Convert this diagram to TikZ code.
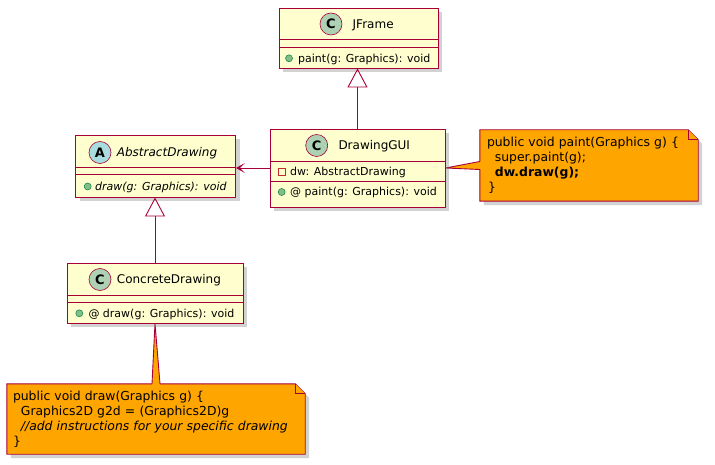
\documentclass[tikz,border=0pt]{standalone}
\usepackage{fontspec}
\setmainfont{DejaVu Sans}
\usetikzlibrary{arrows.meta,shadows,backgrounds}
\definecolor{umlred}{HTML}{A80036}
\definecolor{classfill}{HTML}{FEFECE}
\definecolor{notefill}{HTML}{FFA500}
\definecolor{spotc}{HTML}{ADD1B2}
\definecolor{spota}{HTML}{A9DCDF}
\definecolor{pubfill}{HTML}{84BE84}
\definecolor{publine}{HTML}{038048}
\definecolor{privline}{HTML}{C82930}
\newcommand{\codeind}{\hspace*{7.9pt}}

\begin{document}
\begin{tikzpicture}[x=1pt,y=-1pt]%
  \tikzstyle{shade}=[drop shadow={shadow xshift=4pt,shadow yshift=-4pt,opacity=.35}]
  \tikzstyle{classbox}=[rectangle,draw=umlred,fill=classfill,line width=.9pt,inner sep=0,shade]
  \tikzstyle{sepline}=[draw=umlred,line width=.9pt]
  \tikzstyle{spot}=[circle,draw=umlred,line width=.6pt,minimum size=22pt,inner sep=0,font=\fontsize{13}{13}\selectfont\bfseries]
  \tikzstyle{cname}=[anchor=base west,inner sep=0,font=\fontsize{12}{14}\selectfont]
  \tikzstyle{member}=[anchor=base west,inner sep=0,font=\fontsize{11}{13}\selectfont]
  \tikzstyle{pub}=[circle,draw=publine,fill=pubfill,minimum size=7pt,inner sep=0,line width=.5pt]
  \tikzstyle{priv}=[rectangle,draw=privline,minimum size=7pt,inner sep=0,line width=.7pt]
  \tikzstyle{notebox}=[rectangle,align=left,inner ysep=0,font=\fontsize{12.4}{15}\selectfont]
  \tikzstyle{noteline}=[draw=umlred,fill=notefill,line width=.9pt,line join=miter]
  \tikzstyle{extends}=[draw=umlred,line width=.9pt,-{Triangle[open,length=19pt,width=20pt]}]
  \tikzstyle{uses}=[draw=umlred,line width=.9pt,-{Stealth[length=9pt,width=10pt,inset=5pt]}]

  \begin{pgfonlayer}{background}
    \fill[white] (0,0) rectangle (715,465);
  \end{pgfonlayer}
  \useasboundingbox (0,0) rectangle (715,465);

  % classes
  \node(jframe)[classbox,minimum width=159pt,minimum height=60pt] at (358.5,38) {};
  \draw[sepline] ([yshift=-32pt]jframe.north west) -- ([yshift=-32pt]jframe.north east)
                 ([yshift=-40pt]jframe.north west) -- ([yshift=-40pt]jframe.north east);
  \node(jframespot)[spot,fill=spotc] at (331,24) {C};
  \node(jframename)[cname] at (352.5,28.4) {JFrame};
  \node(jframepub)[pub] at (289,58.3) {};
  \node(jframepaint)[member] at (298,62.3) {paint(g: Graphics): void};

  \node(abstractdrawing)[classbox,minimum width=160pt,minimum height=62pt] at (155.5,166) {};
  \draw[sepline] ([yshift=-32.5pt]abstractdrawing.north west) -- ([yshift=-32.5pt]abstractdrawing.north east)
                 ([yshift=-40pt]abstractdrawing.north west) -- ([yshift=-40pt]abstractdrawing.north east);
  \node(abstractspot)[spot,fill=spota] at (100,152.5) {A};
  \node(abstractname)[cname,font=\fontsize{12}{14}\selectfont\itshape] at (116.7,156.9) {AbstractDrawing};
  \node(abstractpub)[pub] at (87.7,186.5) {};
  \node(abstractdraw)[member,font=\fontsize{11}{13}\selectfont\itshape] at (95,190.5) {draw(g: Graphics): void};

  \node(drawinggui)[classbox,minimum width=175pt,minimum height=78pt] at (357.5,168) {};
  \draw[sepline] ([yshift=-33pt]drawinggui.north west) -- ([yshift=-33pt]drawinggui.north east)
                 ([yshift=-53pt]drawinggui.north west) -- ([yshift=-53pt]drawinggui.north east);
  \node(guispot)[spot,fill=spotc] at (316.7,145.5) {C};
  \node(guiname)[cname] at (338.3,149.9) {DrawingGUI};
  \node(guipriv)[priv] at (281.7,172) {};
  \node(guidw)[member] at (290,176) {dw: AbstractDrawing};
  \node(guipub)[pub] at (281.7,192) {};
  \node(guipaint)[member] at (290,196) {@ paint(g: Graphics): void};

  \node(concretedrawing)[classbox,minimum width=176pt,minimum height=60pt] at (155,293) {};
  \draw[sepline] ([yshift=-33pt]concretedrawing.north west) -- ([yshift=-33pt]concretedrawing.north east)
                 ([yshift=-40pt]concretedrawing.north west) -- ([yshift=-40pt]concretedrawing.north east);
  \node(concretespot)[spot,fill=spotc] at (100,279.5) {C};
  \node(concretename)[cname] at (116.7,283.9) {ConcreteDrawing};
  \node(concretepub)[pub] at (79.3,313.3) {};
  \node(concretedraw)[member] at (88.3,317.3) {@ draw(g: Graphics): void};

  % notes
  \node(paintnote)[notebox,inner xsep=7pt,text width=204pt,minimum height=71pt] at (589,165.5)
    {public void paint(Graphics g) \{\\\codeind super.paint(g);\\\codeind\textbf{dw.draw(g);}\\\hspace*{1pt}\}};
  \node(drawnote)[notebox,inner xsep=6pt,text width=286pt,minimum height=70pt] at (156,419)
    {public void draw(Graphics g) \{\\\codeind Graphics2D g2d = (Graphics2D)g\\\codeind\textit{//add instructions for your specific drawing}\\\}};

  \begin{pgfonlayer}{background}
    \filldraw[noteline,shade] (paintnote.north west) -- ([xshift=-10pt]paintnote.north east)
      -- ([yshift=-10pt]paintnote.north east) -- (paintnote.south east) -- (paintnote.south west) -- cycle;
    \draw[noteline] ([xshift=-10pt]paintnote.north east) -- ++(0,10) -- ([yshift=-10pt]paintnote.north east);
    \fill[notefill] (drawinggui.east) -- ([xshift=1pt,yshift=4pt]paintnote.west) -- ([xshift=1pt,yshift=-4pt]paintnote.west) -- cycle;
    \draw[sepline] ([yshift=4pt]paintnote.west) -- (drawinggui.east) -- ([yshift=-4pt]paintnote.west);

    \filldraw[noteline,shade] (drawnote.north west) -- ([xshift=-10pt]drawnote.north east)
      -- ([yshift=-10pt]drawnote.north east) -- (drawnote.south east) -- (drawnote.south west) -- cycle;
    \draw[noteline] ([xshift=-10pt]drawnote.north east) -- ++(0,10) -- ([yshift=-10pt]drawnote.north east);
    \fill[notefill] (concretedrawing.south) -- ([xshift=-4pt,yshift=-1pt]drawnote.north) -- ([xshift=4pt,yshift=-1pt]drawnote.north) -- cycle;
    \draw[sepline] ([xshift=-4pt]drawnote.north) -- (concretedrawing.south) -- ([xshift=4pt]drawnote.north);
  \end{pgfonlayer}

  % relations
  \draw[extends] (drawinggui.north) -- (drawinggui.north |- jframe.south);
  \draw[uses] (drawinggui.west) -- (drawinggui.west -| abstractdrawing.east);
  \draw[extends] (concretedrawing.north) -- (concretedrawing.north |- abstractdrawing.south);
\end{tikzpicture}
\end{document}
